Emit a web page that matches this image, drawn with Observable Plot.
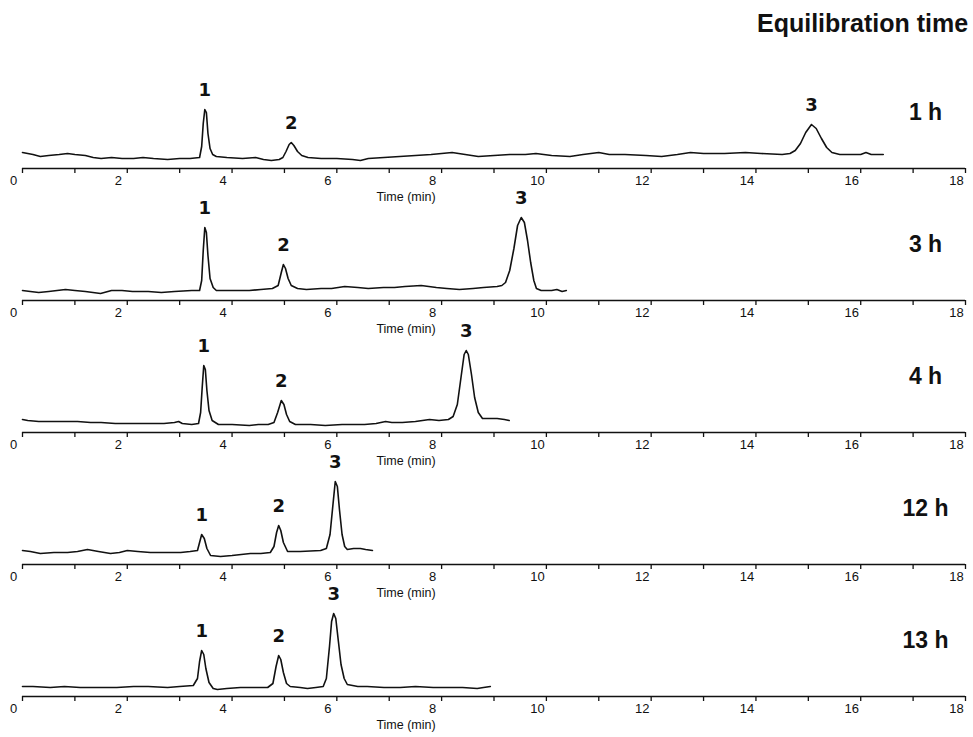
<!DOCTYPE html>
<html><head><meta charset="utf-8">
<script src="https://cdn.jsdelivr.net/npm/d3@7"></script>
<script src="https://cdn.jsdelivr.net/npm/@observablehq/plot@0.6"></script>
<style>
body{margin:0;background:#fff;}
#wrap{position:relative;width:973px;height:737px;overflow:hidden;background:#fff;}
#title{position:absolute;left:757px;top:11px;font:bold 25px "Liberation Sans",Arial,sans-serif;white-space:nowrap;line-height:25px;color:#111;}
#chart{position:absolute;left:0;top:47px;}
</style></head><body>
<div id="wrap"><div id="title">Equilibration time</div><div id="chart"></div></div>
<script>
// Equilibration times (one chromatogram per panel)
const panels = ["1 h", "3 h", "4 h", "12 h", "13 h"];
const axisTitle = "Time (min)";
const tickValues = [0, 2, 4, 6, 8, 10, 12, 14, 16, 18];
const minorTicks = [0,1,2,3,4,5,6,7,8,9,10,11,12,13,14,15,16,17,18];
const peakNames = ["1", "2", "3"];

// detector response: [time (min), signal]
const trace1h = [[0,16],[0.1,15],[0.2,14],[0.34,12],[0.5,13],[0.7,14],[0.86,15],[1.0,14],[1.2,13],[1.35,11],[1.5,10],[1.7,11],[1.9,10],[2.12,10],[2.3,11],[2.5,10],[2.77,9],[3.0,10],[3.2,10],[3.38,11],[3.42,22],[3.45,45],[3.48,59],[3.51,56],[3.54,35],[3.58,20],[3.63,14],[3.7,12],[3.9,11],[4.2,10],[4.45,11],[4.6,9],[4.75,8],[4.9,9],[4.97,11],[5.03,17],[5.09,24],[5.13,26],[5.18,23],[5.25,17],[5.33,13],[5.45,11],[5.7,10],[6.0,10],[6.3,9],[6.45,8],[6.6,10],[6.9,11],[7.2,12],[7.5,13],[7.8,14],[8.0,15],[8.2,16],[8.45,14],[8.7,12],[9.0,13],[9.3,14],[9.6,14],[9.8,15],[10.1,13],[10.45,12],[10.7,14],[11.0,16],[11.2,14],[11.5,14],[11.9,13],[12.2,12],[12.5,14],[12.75,16],[13.0,15],[13.4,15],[13.8,16],[14.1,15],[14.5,14],[14.65,15],[14.75,18],[14.85,25],[14.95,36],[15.06,44],[15.15,40],[15.25,30],[15.35,21],[15.45,16],[15.6,14],[15.8,14],[16.0,14],[16.1,16],[16.2,14],[16.43,14]];
const trace3h = [[0,10],[0.15,9],[0.31,8],[0.5,9],[0.82,11],[1.0,10],[1.2,9],[1.49,7],[1.7,10],[1.9,10],[2.1,9],[2.4,9],[2.65,8],[2.9,9],[3.23,10],[3.38,10],[3.42,20],[3.45,50],[3.48,73],[3.51,68],[3.54,45],[3.58,22],[3.64,13],[3.7,10],[3.9,10],[4.1,10],[4.33,10],[4.55,11],[4.77,12],[4.88,15],[4.94,28],[4.98,36],[5.02,32],[5.07,22],[5.13,15],[5.25,12],[5.42,11],[5.7,12],[5.9,12],[6.15,14],[6.4,13],[6.6,12],[6.89,13],[7.1,13],[7.3,14],[7.61,15],[7.9,13],[8.1,12],[8.34,11],[8.6,12],[8.8,13],[9.06,14],[9.15,15],[9.22,18],[9.3,30],[9.38,52],[9.45,75],[9.52,83],[9.58,78],[9.64,60],[9.7,38],[9.76,20],[9.81,12],[9.9,10],[10.0,10],[10.1,10],[10.2,11],[10.3,9],[10.38,10]];
const trace4h = [[0,13],[0.1,12],[0.31,11],[0.6,11],[0.8,11],[1.05,11],[1.3,10],[1.5,10],[1.77,9],[2.0,9],[2.2,9],[2.5,9],[2.7,9],[2.9,10],[2.98,11],[3.05,9],[3.23,8],[3.36,9],[3.4,20],[3.43,45],[3.46,67],[3.49,63],[3.52,42],[3.56,22],[3.62,12],[3.74,8],[4.0,8],[4.33,7],[4.5,8],[4.69,8],[4.8,10],[4.87,20],[4.94,32],[4.99,28],[5.04,18],[5.1,11],[5.21,8],[5.5,8],[5.78,7],[6.1,8],[6.53,8],[6.75,9],[6.93,11],[7.05,10],[7.25,10],[7.5,11],[7.77,13],[7.95,12],[8.13,13],[8.22,16],[8.3,28],[8.37,55],[8.43,78],[8.47,82],[8.51,78],[8.57,58],[8.63,35],[8.7,20],[8.78,14],[8.9,14],[9.06,14],[9.2,13],[9.29,12]];
const trace12h = [[0,14],[0.15,13],[0.34,11],[0.6,12],[0.86,12],[1.05,13],[1.24,15],[1.45,13],[1.68,11],[1.85,12],[2.0,14],[2.2,13],[2.44,12],[2.7,12],[3.02,12],[3.2,13],[3.34,14],[3.37,20],[3.42,30],[3.47,26],[3.52,16],[3.59,9],[3.78,8],[4.0,9],[4.35,11],[4.55,11],[4.73,12],[4.8,18],[4.85,32],[4.89,39],[4.93,34],[4.98,22],[5.06,13],[5.3,13],[5.69,14],[5.8,16],[5.87,30],[5.93,62],[5.97,83],[6.01,78],[6.05,55],[6.1,30],[6.15,18],[6.2,15],[6.32,16],[6.45,16],[6.55,15],[6.68,14]];
const trace13h = [[0,10],[0.2,10],[0.53,9],[0.8,10],[1.1,9],[1.49,9],[1.8,9],[2.12,10],[2.4,10],[2.77,9],[3.0,10],[3.26,11],[3.34,18],[3.38,35],[3.42,46],[3.46,42],[3.5,28],[3.56,14],[3.64,8],[3.72,7],[3.9,8],[4.16,9],[4.4,9],[4.68,9],[4.78,13],[4.84,30],[4.89,41],[4.93,37],[4.98,24],[5.04,13],[5.11,10],[5.3,9],[5.44,8],[5.6,9],[5.74,10],[5.8,18],[5.86,50],[5.9,75],[5.94,83],[5.98,78],[6.03,55],[6.08,32],[6.14,18],[6.2,12],[6.4,10],[6.58,10],[6.9,9],[7.21,9],[7.5,10],[7.84,9],[8.1,9],[8.4,9],[8.68,8],[8.8,9],[8.93,10]];

// peak apexes: [retention time, apex signal] for peaks 1, 2, 3
const peaks1h = [[3.48,59],[5.13,26],[15.06,44]];
const peaks3h = [[3.48,73],[4.98,36],[9.52,83]];
const peaks4h = [[3.46,67],[4.94,32],[8.47,82]];
const peaks12h = [[3.42,30],[4.89,39],[5.97,83]];
const peaks13h = [[3.42,46],[4.89,41],[5.94,83]];

const traces = [trace1h, trace3h, trace4h, trace12h, trace13h];
const peakSets = [peaks1h, peaks3h, peaks4h, peaks12h, peaks13h];

const traceRows = traces.flatMap((tr, i) => tr.map(([t, s]) => ({panel: panels[i], t, s})));
const peakRows = peakSets.flatMap((ps, i) => ps.map(([t, s], j) => ({panel: panels[i], t, s, name: peakNames[j]})));

const sans = '"Liberation Sans", Arial, sans-serif';
const gap = 12.5 / 132.5;

const chart = Plot.plot({
  width: 973,
  height: 690,
  marginLeft: 22,
  marginRight: 8,
  marginTop: 0,
  marginBottom: 40,
  x: {domain: [0, 18]},
  y: {domain: [0, 120], axis: null},
  fy: {domain: panels, axis: null, paddingInner: gap, paddingOuter: 0},
  style: {fontFamily: sans, background: "white", color: "#111"},
  marks: [
    Plot.ruleY([0], {stroke: "#111", strokeWidth: 1.5}),
    Plot.axisX({ticks: minorTicks, tickSize: 5, tickFormat: () => "", label: null, facetAnchor: null, stroke: "#111", strokeWidth: 1.3}),
    Plot.axisX({ticks: tickValues, tickSize: 0, tickPadding: 7, dx: -9, fontSize: 13, label: null, facetAnchor: null, fill: "#111"}),
    Plot.text(panels, {fy: d => d, text: () => axisTitle, frameAnchor: "bottom", dx: -88, dy: 32, fontSize: 12.5, fill: "#111"}),
    Plot.line(traceRows, {x: "t", y: "s", fy: "panel", z: "panel", stroke: "#111", strokeWidth: 1.6, curve: "linear"}),
    Plot.text(peakRows, {x: "t", y: "s", fy: "panel", text: "name", dy: -19, lineAnchor: "middle", fontSize: 18, fontWeight: "bold", fontFamily: '"DejaVu Sans", sans-serif', fill: "#111"}),
    Plot.text(panels, {fy: d => d, text: d => d, frameAnchor: "bottom-right", dx: -40, dy: -49, textAnchor: "middle", fontSize: 23, fontWeight: "bold", fill: "#111"})
  ]
});
document.getElementById("chart").appendChild(chart);
</script>
</body></html>
